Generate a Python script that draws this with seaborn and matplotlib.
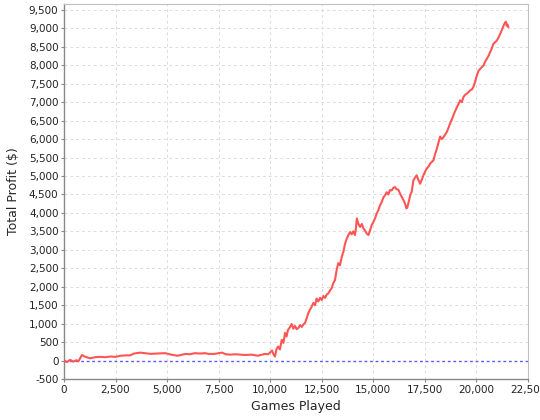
import matplotlib
matplotlib.use("Agg")
import matplotlib.pyplot as plt
import seaborn as sns
from matplotlib.ticker import FuncFormatter, MultipleLocator

# games played vs cumulative profit
games = [0, 150, 300, 450, 600, 700, 870, 1000, 1260, 1500, 1750, 2000, 2250, 2500,
         2750, 3000, 3200, 3400, 3700, 3900, 4200, 4500, 4900, 5200, 5500, 5900,
         6100, 6350, 6600, 6840, 7000, 7300, 7660, 7850, 8050, 8300, 8540, 8800,
         9100, 9400, 9600, 9750, 9900, 10090, 10150, 10230, 10300, 10380, 10470,
         10560, 10640, 10720, 10790, 10860, 10950, 11040, 11120, 11200, 11280,
         11360, 11450, 11530, 11610, 11690, 11770, 11850, 11930, 12010, 12090,
         12170, 12250, 12330, 12420, 12500, 12580, 12660, 12740, 12820, 12900,
         12980, 13060, 13140, 13220, 13300, 13380, 13470, 13550, 13630, 13710,
         13790, 13870, 13950, 14030, 14110, 14160, 14200, 14280, 14360, 14440,
         14520, 14600, 14680, 14760, 14840, 14920, 15000, 15080, 15160, 15240,
         15320, 15410, 15490, 15570, 15650, 15730, 15810, 15890, 15970, 16050,
         16130, 16210, 16300, 16380, 16460, 16540, 16600, 16650, 16730, 16800,
         16860, 16940, 17020, 17100, 17180, 17270, 17350, 17430, 17510, 17590,
         17670, 17750, 17830, 17910, 18000, 18080, 18160, 18240, 18320, 18400,
         18480, 18560, 18640, 18720, 18800, 18880, 18960, 19050, 19130, 19210,
         19290, 19370, 19450, 19530, 19610, 19690, 19770, 19850, 19930, 20020,
         20100, 20180, 20260, 20340, 20420, 20500, 20580, 20660, 20740, 20820,
         20900, 20990, 21070, 21150, 21230, 21310, 21390, 21430, 21470, 21510,
         21550]
profit = [0, -40, 20, -30, 10, -20, 150, 110, 60, 90, 100, 90, 110, 100,
          130, 140, 140, 190, 215, 200, 180, 190, 200, 160, 130, 180,
          170, 200, 190, 200, 180, 180, 215, 170, 160, 170, 160, 150,
          160, 130, 160, 180, 170, 270, 180, 110, 300, 380, 300,
          560, 480, 750, 650, 830, 900, 990, 860, 940, 850,
          880, 960, 910, 980, 1020, 1150, 1290, 1380, 1460, 1560,
          1500, 1680, 1600, 1700, 1640, 1750, 1700, 1790, 1820, 1900,
          1960, 2100, 2180, 2450, 2640, 2580, 2810, 2950, 3170, 3300,
          3400, 3480, 3420, 3500, 3400, 3600, 3850, 3700, 3620, 3700,
          3580, 3520, 3440, 3400, 3520, 3670, 3750, 3850, 3980, 4070,
          4200, 4300, 4420, 4480, 4560, 4500, 4620, 4610, 4680, 4700,
          4640, 4630, 4520, 4430, 4350, 4250, 4120, 4150, 4340, 4500,
          4570, 4880, 4950, 5020, 4900, 4790, 4900, 5020, 5120, 5200,
          5250, 5330, 5380, 5420, 5600, 5740, 5900, 6070, 6000, 6050,
          6120, 6190, 6300, 6420, 6520, 6640, 6750, 6860, 6950, 7050,
          7000, 7140, 7200, 7230, 7270, 7320, 7340, 7410, 7550, 7720,
          7850, 7900, 7950, 7990, 8100, 8170, 8250, 8350, 8450, 8580,
          8620, 8670, 8750, 8850, 8950, 9070, 9160, 9180, 9070, 9100,
          9030]

sns.set_style("white")
plt.rcParams['font.family'] = ['DejaVu Sans']

fig = plt.figure(figsize=(5.4, 4.2), dpi=100)
ax = fig.add_axes([64 / 540, 41 / 420, 464 / 540, 375 / 420])

sns.lineplot(x=games, y=profit, ax=ax, color="#ff5555", linewidth=1.5,
             estimator=None, sort=False, zorder=3)
ax.axhline(0, color="#5a5aff", linewidth=1.0, linestyle=(0, (2, 2)), zorder=2)

ax.set_xlim(0, 22500)
ax.set_ylim(-500, 9660)
ax.xaxis.set_major_locator(MultipleLocator(2500))
ax.yaxis.set_major_locator(MultipleLocator(500))
fmt = FuncFormatter(lambda v, p: f"{int(v):,}")
ax.xaxis.set_major_formatter(fmt)
ax.yaxis.set_major_formatter(fmt)

ax.grid(True, color="#dcdcdc", linestyle=(0, (3, 3)), linewidth=0.7, zorder=0)
ax.set_axisbelow(True)
# the zero grid line would show through the blue dashes
for loc, gl in zip(ax.get_yticks(), ax.yaxis.get_gridlines()):
    if loc == 0:
        gl.set_visible(False)

for side in ["top", "right"]:
    ax.spines[side].set_color("#c0c0c0")
    ax.spines[side].set_linewidth(0.8)
for side in ["left", "bottom"]:
    ax.spines[side].set_color("#888888")
    ax.spines[side].set_linewidth(1.0)
ax.tick_params(axis="both", direction="out", length=2, width=0.8, color="#888888",
               labelsize=7.5, labelcolor="#222222", pad=2, left=True, bottom=True)

ax.set_xlabel("Games Played", fontsize=9, labelpad=4)
ax.set_ylabel("Total Profit ($)", fontsize=9, labelpad=6)

fig.savefig("out.png", dpi=100)
